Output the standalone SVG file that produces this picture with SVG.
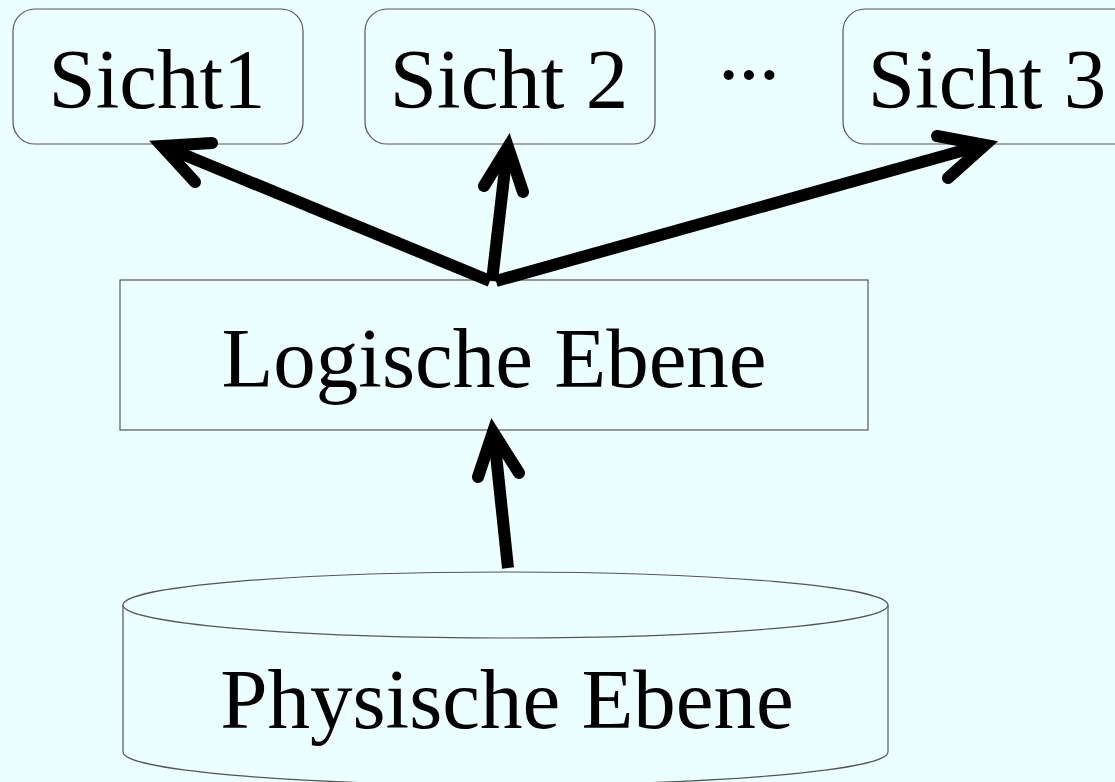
<svg xmlns="http://www.w3.org/2000/svg" width="1115" height="782" viewBox="0 0 1115 782">
<style>
.box{fill:#EBFFFF;stroke:#555;stroke-width:1.2}
.lbl{font-family:"Liberation Serif","Times New Roman",serif;font-size:85px;fill:#000;text-anchor:middle}
.shaft{stroke:#000;stroke-width:12;fill:none;stroke-linecap:butt}
.head{stroke:#000;stroke-width:12;fill:none;stroke-linecap:round;stroke-linejoin:miter;stroke-miterlimit:10}
</style>
<rect width="1115" height="782" fill="#EBFFFF"/>
<g id="sicht1"><rect class="box" x="13" y="9" width="290" height="135" rx="22"/><text class="lbl" x="157" y="108">Sicht1</text></g>
<g id="sicht2"><rect class="box" x="365" y="9" width="290" height="135" rx="22"/><text class="lbl" x="509" y="108">Sicht 2</text></g>
<g id="dots"><text class="lbl" x="745" y="103" letter-spacing="-8">···</text></g>
<g id="sicht3"><rect class="box" x="843" y="9" width="300" height="135" rx="22"/><text class="lbl" x="987" y="108">Sicht 3</text></g>
<g id="logisch"><rect class="box" x="120" y="280" width="748" height="150"/><text class="lbl" x="494" y="387">Logische Ebene</text></g>
<g id="physisch"><path class="box" d="M123,605 L123,752 A382.5,33 0 0 0 888,752 L888,605"/><ellipse class="box" cx="505.5" cy="605" rx="382.5" ry="33"/><text class="lbl" x="507" y="728">Physische Ebene</text></g>
<g id="connectors">
<line class="shaft" x1="490" y1="281" x2="175" y2="151"/>
<polyline class="head" points="212,143 162,146 195,182"/>
<line class="shaft" x1="492" y1="281" x2="506" y2="160"/>
<polyline class="head" points="484,186 508,147 523,192"/>
<line class="shaft" x1="496" y1="281" x2="972" y2="148"/>
<polyline class="head" points="937,136 985,145 948,178"/>
<line class="shaft" x1="508" y1="568" x2="495" y2="445"/>
<polyline class="head" points="478,477 493,432 519,473"/>
</g>
</svg>
